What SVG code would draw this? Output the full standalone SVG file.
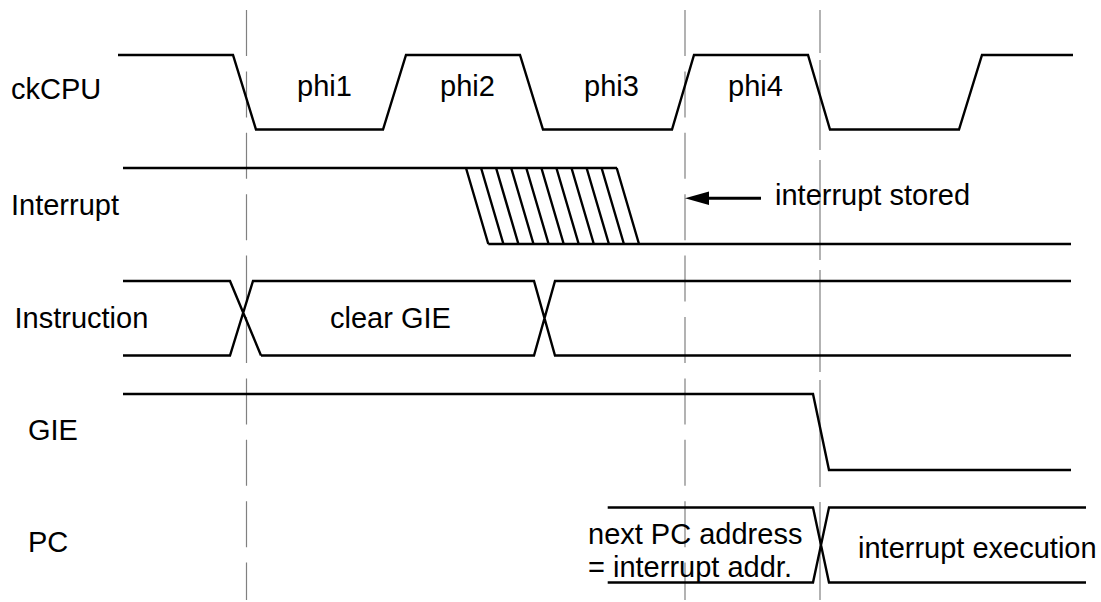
<svg xmlns="http://www.w3.org/2000/svg" width="1101" height="602" viewBox="0 0 1101 602">
<style>
.sig{fill:none;stroke:#000;stroke-width:2.4;stroke-linejoin:miter}
.grid{fill:none;stroke:#808080;stroke-width:1.2}
.dash{stroke-dasharray:46 15.4}
text{font-family:"Liberation Sans",Arial,Helvetica,sans-serif;font-size:29px;fill:#000}
</style>
<rect width="1101" height="602" fill="#fff"/>
<g id="gridlines">
<line class="grid dash" x1="246.5" y1="10" x2="246.5" y2="600"/>
<line class="grid dash" x1="685" y1="10" x2="685" y2="600"/>
<path class="grid" d="M820,10V53M820,60V150M820,160V260M820,270V372M820,380V487M820,502V600"/>
</g>
<g id="ckCPU">
<text x="11" y="99">ckCPU</text>
<path class="sig" d="M118,55H233L256,129.5H383L406,55H520L543,129.5H672L694,55H808L830,129.5H959L982,55H1073"/>
<text x="297" y="96">phi1</text>
<text x="440" y="96">phi2</text>
<text x="584" y="96">phi3</text>
<text x="728" y="96">phi4</text>
</g>
<g id="Interrupt">
<text x="11" y="215">Interrupt</text>
<path class="sig" d="M123,168H617M488.3,244H1071"/>
<path class="sig" d="M466,168l22.3,76M481.1,168l22.3,76M496.1,168l22.3,76M511.2,168l22.3,76M526.3,168l22.3,76M541.4,168l22.3,76M556.4,168l22.3,76M571.5,168l22.3,76M586.6,168l22.3,76M601.6,168l22.3,76M616.7,168l22.3,76"/>
</g>
<g id="annotation">
<line class="sig" x1="707" y1="198.3" x2="761" y2="198.3" style="stroke-width:3"/>
<polygon points="685,198.3 709,191.5 709,205.1" fill="#000"/>
<text x="775" y="205">interrupt stored</text>
</g>
<g id="Instruction">
<text x="14.5" y="328">Instruction</text>
<path class="sig" d="M123,281H230L261,355.5M123,355.5H230L253,281H534L555,355.5H1071M261,355.5H534L555,281H1071"/>
<text x="330" y="328">clear GIE</text>
</g>
<g id="GIE">
<text x="28" y="440">GIE</text>
<path class="sig" d="M123,394H813L829,470H1071"/>
</g>
<g id="PC">
<text x="28" y="552">PC</text>
<path class="sig" d="M607.7,507.5H813L829,582.5H1086M607.7,582.5H813L829,507.5H1086"/>
<text x="588" y="544">next PC address</text>
<text x="588" y="577">= interrupt addr.</text>
<text x="858" y="558">interrupt execution</text>
</g>
</svg>
